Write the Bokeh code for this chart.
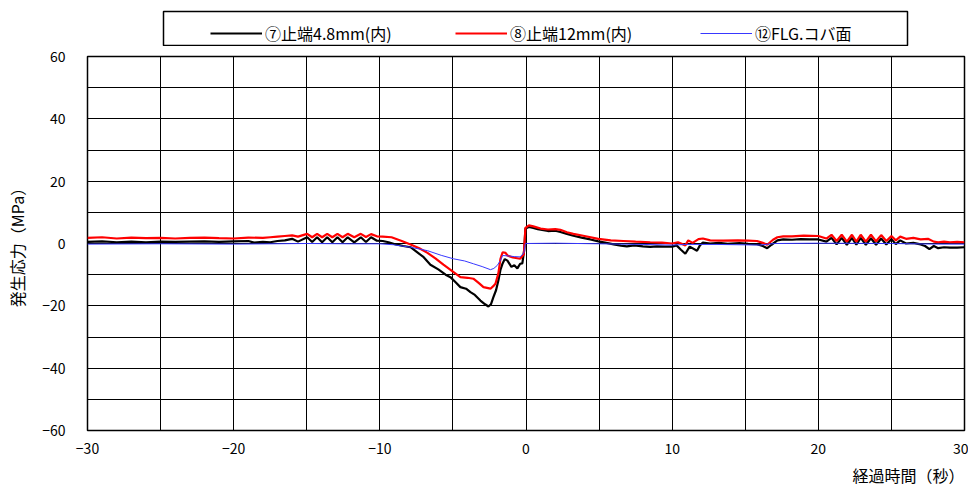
from bokeh.plotting import figure
from bokeh.models import Range1d, FixedTicker, Legend, LegendItem, Title, BoxAnnotation
from bokeh.layouts import column
from bokeh.embed import file_html
from bokeh.resources import INLINE

# ---- data ----
series_names = ["⑦止端4.8mm(内)", "⑧止端12mm(内)", "⑫FLG.コバ面"]
series_colors = ["black", "#ff0000", "#3838ff"]
series_widths = [2.2, 2.2, 1]

t7 = [-30, -29, -28, -27, -26, -25, -24, -23, -22, -21, -20, -19, -18.6, -18, -17.5, -17, -16.5,
      -16.0, -15.6, -14.97, -14.63, -14.29, -13.95, -13.6, -13.25, -12.9, -12.55, -12.2, -11.75,
      -11.3, -10.95, -10.6, -10.2, -9.8, -9.4, -8.9, -8.4, -7.9, -7.5, -7.0, -6.54, -6.0, -5.5,
      -5.17, -4.8, -4.49, -4.1, -3.8, -3.5, -3.12, -2.8, -2.57, -2.4, -2.23, -2.05, -1.89, -1.75,
      -1.6, -1.45, -1.27, -1.0, -0.8, -0.59, -0.4, -0.25, -0.12, -0.04, 0.2, 0.5, 0.8, 1.0, 1.5,
      2.0, 2.35, 2.8, 3.24, 3.8, 4.4, 4.95, 5.5, 6.0, 6.5, 6.9, 7.4, 8.0, 8.5, 8.96, 9.5, 10.0,
      10.3, 10.6, 10.9, 11.2, 11.7, 11.9, 12.1, 12.6, 13.2, 13.8, 14.6, 15.2, 15.8, 16.2, 16.5,
      16.8, 17.2, 17.6, 18.2, 18.8, 19.4, 20.0, 20.55, 20.9, 21.25, 21.6, 21.95, 22.3, 22.6, 22.9,
      23.25, 23.6, 23.95, 24.3, 24.65, 25.0, 25.3, 25.6, 26.0, 26.5, 27.0, 27.3, 27.6, 27.9, 28.2,
      28.6, 29.0, 29.5, 30]
v7 = [0.5, 0.7, 0.4, 0.6, 0.4, 0.6, 0.5, 0.6, 0.7, 0.5, 0.7, 0.8, 0.3, 0.5, 0.4, 0.8, 1.0,
      1.5, 0.6, 2.0, 0.5, 2.0, 0.4, 2.0, 0.4, 2.0, 0.4, 2.0, 0.4,
      2.0, 0.5, 2.0, 0.9, 0.8, 0.4, -0.3, -0.8, -1.2, -2.6, -4.4, -6.8, -8.3, -10.0,
      -10.8, -12.5, -14.0, -14.5, -15.6, -16.5, -18.3, -19.5, -20.2, -19.5, -17.2, -15.0, -11.9, -8.5,
      -6.4, -5.0, -5.5, -7.5, -7.0, -8.0, -6.5, -6.4, -2.0, 4.8, 5.3, 5.0, 4.6, 4.4, 4.0,
      4.1, 3.7, 3.1, 2.5, 1.9, 1.3, 0.7, 0.2, -0.3, -0.7, -0.9, -0.6, -0.9, -1.1, -0.9, -1.0, -1.0,
      -0.6, -2.0, -3.3, -1.0, -2.3, -0.6, 0.3, 0.0, 0.2, -0.1, 0.1, -0.1, -0.2, -0.8, -1.5,
      -0.4, 1.0, 1.3, 1.2, 1.4, 1.3, 1.3, 0.6, 1.8, -0.3, 1.8, -0.4, 1.8, -0.4, 1.8,
      -0.4, 1.7, -0.4, 1.6, -0.3, 1.4, -0.2, 1.0, 0.0, 0.2, -0.3, -0.8, -1.8, -0.8, -1.5,
      -1.2, -1.3, -1.3, -1.2]

t8 = [-30, -29, -28, -27, -26, -25, -24, -23, -22, -21, -20, -19, -18, -17.5, -17, -16.5, -16.0,
      -15.6, -14.97, -14.63, -14.29, -13.95, -13.6, -13.25, -12.9, -12.55, -12.2, -11.75, -11.3,
      -10.95, -10.6, -10.2, -9.8, -9.2, -8.5, -7.9, -7.3, -6.74, -6.2, -5.65, -5.0, -4.49, -4.0,
      -3.6, -3.2, -2.91, -2.43, -2.2, -2.09, -1.89, -1.75, -1.6, -1.4, -1.27, -0.9, -0.4, -0.15,
      -0.04, 0.2, 0.5, 1.0, 1.5, 2.0, 2.35, 2.8, 3.24, 4.0, 4.95, 5.8, 6.66, 7.5, 8.5, 9.3, 9.99,
      10.4, 10.9, 11.1, 11.4, 11.8, 12.1, 12.6, 13.5, 14.5, 15.2, 15.8, 16.2, 16.5, 16.9, 17.2,
      17.6, 18.2, 19.0, 20.0, 20.55, 20.9, 21.25, 21.6, 21.95, 22.3, 22.6, 22.9, 23.25, 23.6,
      23.95, 24.3, 24.65, 25.0, 25.3, 25.6, 26.0, 26.5, 27.0, 27.5, 27.9, 28.2, 28.6, 29.0, 29.5, 30]
v8 = [1.8, 2.0, 1.6, 1.9, 1.7, 1.8, 1.6, 1.8, 1.9, 1.7, 1.6, 1.9, 1.8, 2.0, 2.2, 2.4, 2.6,
      2.2, 3.1, 2.0, 3.1, 2.0, 3.1, 2.0, 3.1, 2.0, 3.1, 2.0, 3.1,
      2.1, 3.0, 2.3, 2.2, 2.0, 0.8, -0.3, -1.5, -3.0, -4.8, -6.8, -9.0, -10.8, -11.0,
      -11.3, -12.8, -14.0, -14.5, -13.5, -12.9, -9.6, -5.0, -2.8, -3.0, -3.85, -4.5, -4.9, -3.5,
      5.0, 5.8, 5.5, 4.8, 4.5, 4.6, 4.4, 3.6, 3.1, 2.4, 1.5, 1.0, 0.8, 0.6, 0.4, 0.3, 0.0,
      0.4, -0.6, 1.0, 0.2, 1.4, 1.6, 1.0, 0.9, 1.0, 0.9, 0.8, 0.2, -0.4, 1.2, 2.0,
      2.3, 2.3, 2.5, 2.4, 1.6, 2.8, 0.8, 2.8, 0.6, 2.8, 0.6, 2.8, 0.6, 2.8,
      0.7, 2.7, 0.8, 2.4, 1.0, 2.2, 1.5, 1.8, 1.3, 1.5, 0.6, 0.4, 0.6, 0.4, 0.5, 0.4]

t12 = [-30, -25, -20, -15, -12, -10, -9.07, -7.9, -6.74, -5.8, -4.97, -4.2, -3.6, -3.0, -2.43, -2.2,
       -1.96, -1.75, -1.6, -1.2, -0.8, -0.4, -0.15, -0.04, 2, 5, 8, 10, 11, 13, 16, 17, 20, 25, 28, 30]
v12 = [-0.2, -0.1, -0.2, 0.0, -0.1, -0.1, -0.4, -1.2, -2.3, -3.8, -4.9, -5.6, -6.5, -7.4, -8.4, -8.0,
       -7.0, -5.5, -3.85, -4.0, -4.2, -4.3, -3.0, 0.0, 0.1, -0.1, -0.3, -0.5, -0.3, -0.3, -0.5, 0.0,
       0.1, 0.0, -0.2, -0.2]

series_t = [t7, t8, t12]
series_v = [v7, v8, v12]

x_ticks = [-30, -20, -10, 0, 10, 20, 30]
x_grid = [-30, -25, -20, -15, -10, -5, 0, 5, 10, 15, 20, 25, 30]
y_ticks = [-60, -40, -20, 0, 20, 40, 60]
y_grid = [-60, -50, -40, -30, -20, -10, 0, 10, 20, 30, 40, 50, 60]

FONT = "Noto Sans CJK JP"
BL, BR, FW = 87, 4, 877   # borders / frame width shared by both stacked figures
STRIP_H = 46

# ---------------- legend strip (top) ----------------
# ranges chosen so that 1 data unit = 1 pixel; the series lines themselves fall outside
leg = figure(frame_width=FW, frame_height=STRIP_H, output_backend="svg", toolbar_location=None,
             x_axis_type=None, y_axis_type=None,
             x_range=Range1d(BL, BL + FW), y_range=Range1d(0, STRIP_H),
             min_border_left=BL, min_border_right=BR, min_border_top=0, min_border_bottom=0)
leg.grid.visible = False
leg.background_fill_color = "white"
leg.border_fill_color = "white"
leg.outline_line_color = None

# legend frame box
leg.add_layout(BoxAnnotation(left=163, right=907, bottom=1, top=STRIP_H - 11, fill_alpha=0,
                             line_color="black", line_alpha=1, line_width=1.5))

items = []
for name, col, w, tt, vv in zip(series_names, series_colors, series_widths, series_t, series_v):
    r = leg.line(tt, vv, line_color=col, line_width=w)   # all points lie off this strip
    items.append(LegendItem(label=name, renderers=[r]))

legend = Legend(items=items, orientation="horizontal", location=(123, 1),
                glyph_width=52, glyph_height=20, label_height=20, label_width=150,
                label_standoff=3, spacing=40, padding=7,
                label_text_font=FONT, label_text_font_size="16px", label_text_color="black",
                border_line_color=None, background_fill_alpha=0)
leg.add_layout(legend, "center")

# ---------------- main chart ----------------
p = figure(frame_width=FW, frame_height=374, output_backend="svg", toolbar_location=None,
           x_range=Range1d(-30, 30), y_range=Range1d(-60, 60),
           min_border_left=BL, min_border_right=BR, min_border_top=10, min_border_bottom=60)
p.background_fill_color = "white"
p.border_fill_color = "white"
p.outline_line_color = "black"
p.outline_line_width = 1.5

for ax in (p.xaxis[0], p.yaxis[0]):
    ax.axis_line_color = None
    ax.major_tick_line_color = None
    ax.minor_tick_line_color = None
    ax.major_label_text_font = FONT
    ax.major_label_text_font_size = "14px"
    ax.major_label_text_color = "black"

p.xaxis.ticker = FixedTicker(ticks=x_ticks)
p.yaxis.ticker = FixedTicker(ticks=y_ticks)
p.xaxis.major_label_standoff = 6
p.yaxis.major_label_standoff = 16
p.xaxis.major_label_overrides = {v: str(v).replace("-", "\u2212") for v in x_ticks}
p.yaxis.major_label_overrides = {v: str(v).replace("-", "\u2212") for v in y_ticks}

p.yaxis.axis_label = "発生応力（MPa）"
p.yaxis.axis_label_text_font = FONT
p.yaxis.axis_label_text_font_size = "16px"
p.yaxis.axis_label_text_font_style = "normal"
p.yaxis.axis_label_text_color = "black"
p.yaxis.axis_label_standoff = 10

p.xgrid.ticker = FixedTicker(ticks=x_grid)
p.ygrid.ticker = FixedTicker(ticks=y_grid)
for g in (p.xgrid[0], p.ygrid[0]):
    g.grid_line_color = "black"
    g.grid_line_width = 1
    g.grid_line_alpha = 1

for col, w, tt, vv in zip(series_colors, series_widths, series_t, series_v):
    p.line(tt, vv, line_color=col, line_width=w)

xlab = Title(text="経過時間（秒）", align="right", text_font=FONT, text_font_size="16px",
             text_font_style="normal", text_color="black", standoff=8)
p.add_layout(xlab, "below")

layout = column(leg, p, spacing=0)
open("out.html", "w").write(file_html(layout, INLINE))
